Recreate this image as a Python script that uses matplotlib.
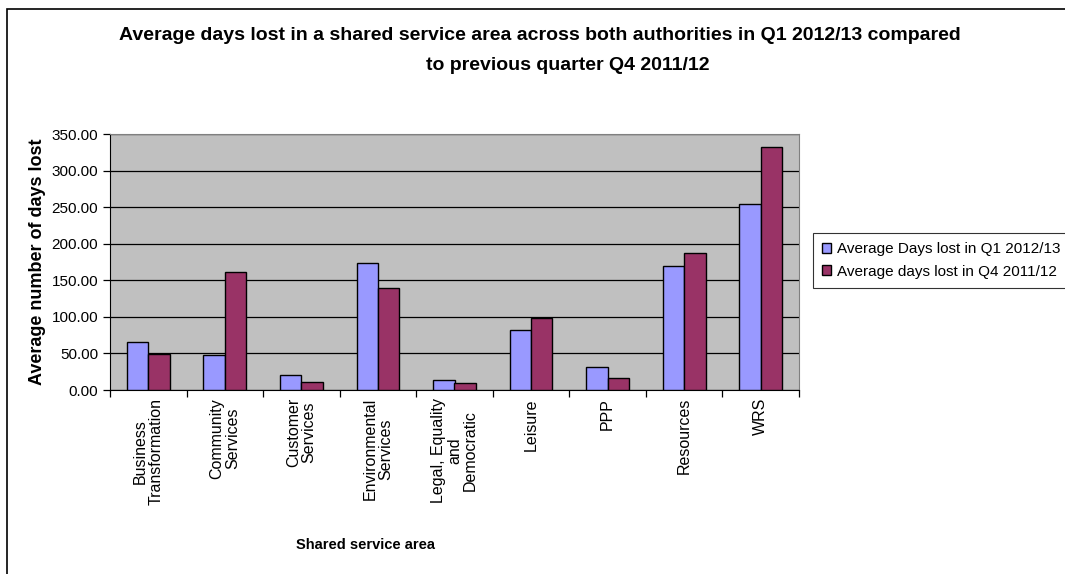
import matplotlib
matplotlib.use("Agg")
import matplotlib.pyplot as plt
import numpy as np
from matplotlib.patches import Rectangle

# data
areas = ["Business\nTransformation", "Community\nServices", "Customer\nServices",
         "Environmental\nServices", "Legal, Equality\nand\nDemocratic", "Leisure",
         "PPP", "Resources", "WRS"]
q1_2012 = [66, 48, 21, 174, 14, 82, 32, 170, 254]
q4_2011 = [49, 162, 11, 140, 10, 99, 16, 187, 332]
series_names = ["Average Days lost in Q1 2012/13", "Average days lost in Q4 2011/12"]
yticks = [0, 50, 100, 150, 200, 250, 300, 350]

W, H = 1065, 574
plt.rcParams['font.family'] = ['Liberation Sans', 'DejaVu Sans']

fig = plt.figure(figsize=(W / 100, H / 100), dpi=100)
fig.patch.set_facecolor("white")

# plot area in pixels
left, right, top, bottom = 110, 799, 134, 390
ax = fig.add_axes([left / W, 1 - bottom / H, (right - left) / W, (bottom - top) / H])
ax.set_facecolor("#C0C0C0")

x = np.arange(len(areas))
bw = 0.28
ax.bar(x - bw / 2, q1_2012, bw, color="#9999FF", edgecolor="black", linewidth=1.0,
       label=series_names[0], zorder=3)
ax.bar(x + bw / 2, q4_2011, bw, color="#993366", edgecolor="black", linewidth=1.0,
       label=series_names[1], zorder=3)

ax.set_xlim(-0.5, len(areas) - 0.5)
ax.set_ylim(0, 350)
ax.set_yticks(yticks)
ax.set_yticklabels(["%.2f" % v for v in yticks], fontsize=11)
ax.yaxis.grid(True, color="black", linewidth=0.9, zorder=1)
ax.set_axisbelow(True)

# category labels below, ticks on the boundaries
ax.set_xticks(np.arange(len(areas) + 1) - 0.5)
ax.set_xticklabels([])
ax.tick_params(axis="x", length=5, width=0.9, direction="out")
ax.tick_params(axis="y", length=5, width=0.9, direction="out")
for i, name in enumerate(areas):
    ax.text(i, -11, name, rotation=90, ha="center", va="top", multialignment="center",
            fontsize=11.5, linespacing=1.05, transform=ax.transData)

for s in ["top", "right"]:
    ax.spines[s].set_color("#808080")
for s in ["left", "bottom"]:
    ax.spines[s].set_color("black")

ax.set_ylabel("Average number of days lost", fontsize=13, fontweight="bold", labelpad=4)

fig.text(540 / W, 1 - 40 / H, "Average days lost in a shared service area across both authorities in Q1 2012/13 compared",
         ha="center", va="baseline", fontsize=14, fontweight="bold")
fig.text(568 / W, 1 - 70 / H, "to previous quarter Q4 2011/12",
         ha="center", va="baseline", fontsize=14, fontweight="bold")
fig.text(365 / W, 1 - 545 / H, "Shared service area", ha="center", va="center",
         fontsize=10.5, fontweight="bold")

leg = ax.legend(loc="upper left", bbox_to_anchor=(813 / W, 1 - 233 / H),
                bbox_transform=fig.transFigure, fontsize=11, frameon=True, fancybox=False,
                handlelength=0.6, handleheight=0.6, handletextpad=0.4, labelspacing=0.55,
                borderpad=0.6, borderaxespad=0)
leg.get_frame().set_edgecolor("black")
leg.get_frame().set_linewidth(0.8)

# outer chart frame (right and bottom edges fall outside the picture)
fig.add_artist(Rectangle((7 / W, -0.1), 1.2, 1.1 - 9 / H, transform=fig.transFigure,
                         fill=False, edgecolor="black", linewidth=1.2))

fig.savefig("out.png", dpi=100)
